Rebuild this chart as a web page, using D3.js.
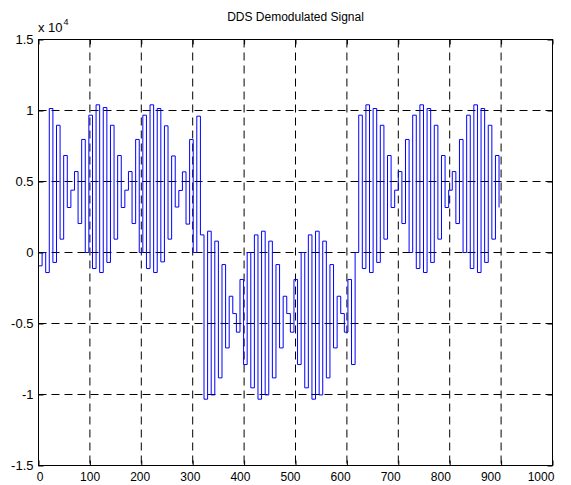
<!DOCTYPE html>
<html>
<head>
<meta charset="utf-8">
<script src="https://cdn.jsdelivr.net/npm/d3@7/dist/d3.min.js"></script>
<style>
  body { margin: 0; background: #fff; }
  text { font-family: "Liberation Sans", Arial, Helvetica, sans-serif; }
</style>
</head>
<body>
<div id="plot"></div>
<script>
// demodulated samples, one value every 7 time units
const sampleTime = 7;

// first "+" bit (samples 0..44)
const bit1 = [
  -940, 0, -1410,
  10140, -700, 8960, 940, 6830, 3170, 4390, 5700, 2040, 7960, 0, 9670, -1130, 10400, -1410,
  10210, -700, 8960, 940, 6830, 3170, 4390, 5700, 2040, 7960, 0, 9670, -1130, 10400, -1410,
  10140, -660, 8920, 940, 6800, 3200, 4370, 5680, 2000, 7960, 0, 9600
];

// "-" bit (samples 45..88)
const bit2 = [
  1240, -10330, 1500, -10030, 800, -8830, -850, -6720, -3080, -4300, -5610, -1900, -7890, 0, -9530,
  1240, -10330, 1500, -10030, 800, -8830, -850, -6720, -3080, -4300, -5610, -1900, -7890, 0, -9530,
  1240, -10330, 1500, -10030, 800, -8830, -850, -6720, -3080, -4300, -5610, -1900, -7890, 0
];

// second "+" bit (samples 89..128)
const bit3 = [
  9670, -1130, 10400, -1410,
  10140, -700, 8960, 940, 6830, 3170, 4390, 5700, 2040, 7960, 0, 9670, -1130, 10400, -1410,
  10140, -700, 8960, 940, 6830, 3170, 4390, 5700, 2040, 7960, 0, 9670, -1130, 10400, -1410,
  10140, -700, 8960, 940, 6830, 3170
];

const xTicks = [0, 100, 200, 300, 400, 500, 600, 700, 800, 900, 1000];
const yTicks = [-15000, -10000, -5000, 0, 5000, 10000, 15000];
const yTickLabels = ["-1.5", "-1", "-0.5", "0", "0.5", "1", "1.5"];

const signal = bit1.concat(bit2, bit3).map((v, i) => ({ t: i * sampleTime, v: v }));

const width = 571, height = 485;
const margin = { top: 39.5, right: 18.5, bottom: 19.5, left: 38.5 };

const svg = d3.select("#plot").append("svg")
  .attr("width", width)
  .attr("height", height);

const x = d3.scaleLinear().domain([0, 1000]).range([margin.left, width - margin.right]);
const y = d3.scaleLinear().domain([-15000, 15000]).range([height - margin.bottom, margin.top]);
// the x labels in the original sit on a slightly tighter spacing than the grid
const xLabel = d3.scaleLinear().domain([0, 1000]).range([40, 541]);

// dashed grid
const grid = svg.append("g")
  .attr("stroke", "#000")
  .attr("stroke-width", 1)
  .attr("stroke-dasharray", "8,5");

grid.selectAll("line.gx")
  .data(xTicks.slice(1, -1))
  .enter().append("line")
  .attr("x1", d => x(d)).attr("x2", d => x(d))
  .attr("y1", y(15000)).attr("y2", y(-15000));

grid.selectAll("line.gy")
  .data(yTicks.slice(1, -1))
  .enter().append("line")
  .attr("x1", x(0)).attr("x2", x(1000))
  .attr("y1", d => y(d)).attr("y2", d => y(d));

// stairs
const line = d3.line()
  .x(d => x(d.t))
  .y(d => y(d.v))
  .curve(d3.curveStepAfter);

svg.append("path")
  .datum(signal)
  .attr("fill", "none")
  .attr("stroke", "#0000ff")
  .attr("stroke-width", 1)
  .attr("d", line);

// box
svg.append("rect")
  .attr("x", x(0)).attr("y", y(15000))
  .attr("width", x(1000) - x(0))
  .attr("height", y(-15000) - y(15000))
  .attr("fill", "none")
  .attr("stroke", "#000");

// axes, ticks inward
const tickLen = 5;
const fmtY = d => yTickLabels[yTicks.indexOf(d)];

svg.append("g")
  .attr("transform", `translate(0,${y(-15000)})`)
  .call(d3.axisBottom(x).tickValues(xTicks).tickFormat("")
    .tickSize(-tickLen).tickSizeOuter(0));

svg.append("g")
  .attr("transform", `translate(0,${y(15000)})`)
  .call(d3.axisTop(x).tickValues(xTicks).tickFormat("")
    .tickSize(-tickLen).tickSizeOuter(0));

svg.append("g")
  .attr("transform", `translate(${x(0)},0)`)
  .call(d3.axisLeft(y).tickValues(yTicks).tickFormat(fmtY)
    .tickSize(-tickLen).tickSizeOuter(0).tickPadding(5));

svg.append("g")
  .attr("transform", `translate(${x(1000)},0)`)
  .call(d3.axisRight(y).tickValues(yTicks).tickFormat("")
    .tickSize(-tickLen).tickSizeOuter(0));

svg.selectAll(".domain").remove();
svg.selectAll(".tick line").attr("stroke", "#000");
svg.selectAll(".tick text")
  .attr("fill", "#000")
  .style("font-family", "'Liberation Sans', Arial, sans-serif")
  .style("font-size", "13px");

// x tick labels
svg.append("g").selectAll("text")
  .data(xTicks)
  .enter().append("text")
  .attr("x", d => xLabel(d))
  .attr("y", y(-15000) + 15)
  .attr("text-anchor", "middle")
  .style("font-size", "12px")
  .attr("fill", "#000")
  .text(d3.format("d"));

// exponent label
const expo = svg.append("text")
  .attr("x", x(0) - 0.5)
  .attr("y", 32)
  .style("font-size", "13px")
  .attr("fill", "#000");
expo.append("tspan").text("x 10");
expo.append("tspan").attr("dy", -7).attr("dx", 1).style("font-size", "9px").text("4");

// title
svg.append("text")
  .attr("x", (x(0) + x(1000)) / 2)
  .attr("y", 21)
  .attr("text-anchor", "middle")
  .style("font-size", "12px")
  .attr("fill", "#000")
  .text("DDS Demodulated Signal");
</script>
</body>
</html>
